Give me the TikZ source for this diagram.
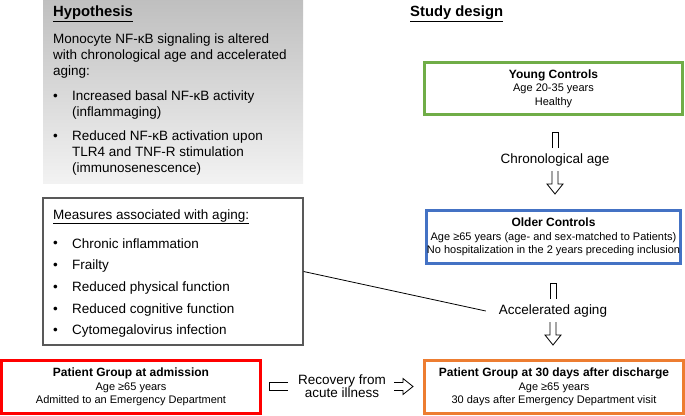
\documentclass[tikz,border=0pt]{standalone}
\usepackage{fontspec}
\setmainfont{Liberation Sans}
\usetikzlibrary{positioning}
\usetikzlibrary{calc}
\definecolor{youngcol}{RGB}{112,173,71}
\definecolor{oldercol}{RGB}{68,114,196}
\definecolor{admitcol}{RGB}{255,0,0}
\definecolor{dischcol}{RGB}{237,125,49}
\tikzstyle{txt}=[inner sep=0pt,anchor=west,align=left,font=\fontsize{13.5}{16}\selectfont]
\tikzstyle{heading}=[inner sep=0pt,anchor=west,font=\fontsize{14.8}{17}\selectfont\bfseries]
\tikzstyle{group}=[draw,line width=3pt,rectangle,inner sep=0pt,align=center,font=\fontsize{11}{13.5}\selectfont]
\tikzstyle{steplabel}=[inner sep=0pt,align=center,font=\fontsize{13.5}{13}\selectfont]
\tikzstyle{openarrow}=[draw,line width=0.8pt,line join=miter]
\tikzstyle{agingline}=[draw,line width=0.8pt]
\newcommand{\grouptitle}{\fontsize{12}{13.5}\selectfont\bfseries}

\begin{document}
\begin{tikzpicture}[x=1pt,y=-1pt]
    \useasboundingbox (0,0) rectangle (685,415);

    % left column: hypothesis and measures
    \node[rectangle,inner sep=0pt,minimum width=260pt,minimum height=183pt,top color=black!25,bottom color=black!5] (hyp) at (173,91.5) {};
    \node[rectangle,draw=black!65,line width=1.2pt,inner sep=0pt,minimum width=260pt,minimum height=147pt] (measures) at (173,271.5) {};

    \node[heading] (hyptitle) at (53,14) {\underline{Hypothesis}};
    \node[txt] (hyptext) at (53,56) {Monocyte NF-κB signaling is altered\\with chronological age and accelerated\\aging:};

    \foreach \yb/\yc/\name/\label in {97/105/hypA/{Increased basal NF-κB activity\\(inflammaging)}, 137/153/hypB/{Reduced NF-κB activation upon\\TLR4 and TNF-R stimulation\\(immunosenescence)}}
    {
        \node[txt] (\name) at (72,\yc) {\label};
        \node[txt] (\name dot) at (53,\yb) {•};
    }

    \node[txt] (meastitle) at (53,217) {\underline{Measures associated with aging:}};
    \foreach \y/\label [count=\i] in {244/Chronic inflammation, 266/Frailty, 288/Reduced physical function, 310/Reduced cognitive function, 331/Cytomegalovirus infection}
    {
        \node[txt] (meas\i) at (72,\y) {\label};
        \node[txt] (meas\i dot) at (53,\y) {•};
    }

    % right column: study design
    \node[heading] (designtitle) at (410,14) {\underline{Study design}};
    \node[group,draw=youngcol,minimum width=258pt,minimum height=52pt] (young) at (553.5,88.5) {{\grouptitle Young Controls}\\Age 20-35 years\\Healthy};
    \node[steplabel] (chrono) at (555,160) {Chronological age};
    \node[group,draw=oldercol,minimum width=254pt,minimum height=53pt] (older) at (553.5,237) {{\grouptitle Older Controls}\\Age ≥65 years (age- and sex-matched to Patients)\\No hospitalization in the 2 years preceding inclusion};
    \node[steplabel] (accel) at (553,311) {Accelerated aging};

    % bottom row: patients
    \node[group,draw=admitcol,minimum width=259pt,minimum height=53pt] (admit) at (131,387) {{\grouptitle Patient Group at admission}\\Age ≥65 years\\Admitted to an Emergency Department};
    \node[steplabel] (recov) at (342,386.5) {Recovery from\\acute illness};
    \node[group,draw=dischcol,minimum width=259pt,minimum height=53pt] (disch) at (554,387) {{\grouptitle Patient Group at 30 days after discharge}\\Age ≥65 years\\30 days after Emergency Department visit};

    % split open arrows
    \foreach \lab in {chrono, accel}
    {
        \draw[openarrow] ($(\lab)+(-3,-12)$) -- ++(0,-16) -- ++(6,0) -- ++(0,16);
        \draw[openarrow] ($(\lab)+(-3,11)$) -- ++(0,13) -- ++(-5,0) -- ++(8,10) -- ++(8,-10) -- ++(-5,0) -- ++(0,-13);
    }
    \draw[openarrow] ($(recov)+(-54,-4)$) -- ++(-19,0) -- ++(0,8) -- ++(19,0);
    \draw[openarrow] ($(recov)+(52,-4)$) -- ++(9,0) -- ++(0,-4) -- ++(10,8) -- ++(-10,8) -- ++(0,-4) -- ++(-9,0);

    \draw[agingline] (measures.east) -- ([xshift=-13pt]accel.west);
\end{tikzpicture}
\end{document}
